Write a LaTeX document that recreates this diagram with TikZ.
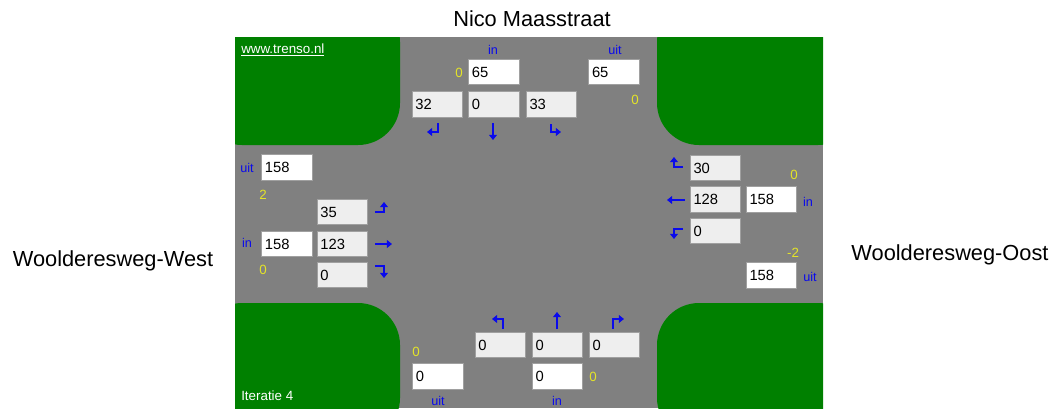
\documentclass[tikz,border=0pt]{standalone}
\usepackage{fontspec}
\setmainfont{Liberation Sans}
\usetikzlibrary{arrows.meta}

\definecolor{roadgray}{RGB}{128, 128, 128}
\definecolor{grass}{RGB}{0, 128, 0}
\definecolor{signblue}{RGB}{10, 10, 235}
\definecolor{numyellow}{RGB}{228, 228, 40}
\definecolor{fieldgray}{RGB}{238, 238, 238}
\definecolor{fieldedge}{RGB}{160, 160, 160}

\tikzset{
    field/.style = {
        draw           = fieldedge,
        line width     = 0.6pt,
        fill           = fieldgray,
        minimum width  = 1.26cm,
        minimum height = 0.63cm,
        text width     = 1.1cm,
        inner xsep     = 2pt,
        align          = left,
        font           = \fontsize{10.5}{12}\selectfont
    },
    infield/.style = {field, fill = white},
    lbl/.style     = {text = signblue, inner sep = 0pt, font = \fontsize{9}{10}\selectfont},
    cnt/.style     = {text = numyellow, inner sep = 0pt, font = \fontsize{9.5}{11}\selectfont},
    street/.style  = {inner sep = 0pt, font = \fontsize{15.5}{18}\selectfont},
    turn/.style    = {draw = signblue, line width = 1.4pt, -{Triangle[length=3.6pt, width=5.5pt]}}
}

\begin{document}
\begin{tikzpicture}[x=0.025cm, y=-0.025cm]
    \useasboundingbox (0,0) rectangle (1052,408);

    % kruispunt
    \fill[roadgray] (235,37) rectangle (823,408);
    \begin{scope}
        \clip (235,37) rectangle (823,408);
        \fill[grass, rounded corners=1.05cm] (200,0)   rectangle (400,145);
        \fill[grass, rounded corners=1.05cm] (657,0)   rectangle (860,145);
        \fill[grass, rounded corners=1.05cm] (200,303) rectangle (400,440);
        \fill[grass, rounded corners=1.05cm] (657,303) rectangle (860,440);
    \end{scope}

    \node[street] (nico) at (532,19)  {Nico Maasstraat};
    \node[street] (west) at (113,261) {Woolderesweg-West};
    \node[street] (oost) at (950,255) {Woolderesweg-Oost};

    \node[inner sep=0pt, anchor=west, text=white, font=\fontsize{9.5}{11}\selectfont] (site) at (241,50)
        {\underline{www.trenso.nl}};
    \node[inner sep=0pt, anchor=west, text=white, font=\fontsize{9.5}{11}\selectfont] (iter) at (241,396)
        {Iteratie 4};

    % noord
    \node[lbl] (nInL)  at (493,50)    {in};
    \node[lbl] (nUitL) at (615,50)    {uit};
    \node[infield] (nIn)  at (494,72)  {65};
    \node[infield] (nUit) at (614,72)  {65};
    \node[cnt] (nInC)  at (459,73)    {0};
    \node[cnt] (nUitC) at (635,100)   {0};
    \node[field] (nL) at (437.5,104.5) {32};
    \node[field] (nS) at (494,104.5)   {0};
    \node[field] (nR) at (551.5,104.5) {33};
    \draw[turn] (438,123) -- (438,132) -- (427,132);
    \draw[turn] (493,123) -- (493,140);
    \draw[turn] (551,124) -- (551,132) -- (561,132);

    % west
    \node[lbl] (wUitL) at (247,168)   {uit};
    \node[infield] (wUit) at (287,167.5) {158};
    \node[cnt] (wUitC) at (263,195)   {2};
    \node[field] (wL) at (342.5,212)  {35};
    \node[lbl] (wInL) at (247,243)    {in};
    \node[infield] (wIn) at (287,244) {158};
    \node[field] (wS) at (342.5,244)  {123};
    \node[cnt] (wInC) at (263,270)    {0};
    \node[field] (wR) at (342.5,275)  {0};
    \draw[turn] (375,212) -- (384,212) -- (384,202);
    \draw[turn] (375,244) -- (392,244);
    \draw[turn] (375,266) -- (384,266) -- (384,278);

    % oost
    \node[field] (oR) at (715.5,168)   {30};
    \node[cnt] (oInC) at (794,175)     {0};
    \node[field] (oS) at (715.5,199.5) {128};
    \node[infield] (oIn) at (771.5,199.5) {158};
    \node[lbl] (oInL) at (808,202)     {in};
    \node[field] (oL) at (715.5,231)   {0};
    \node[cnt] (oUitC) at (793,253)    {-2};
    \node[infield] (oUit) at (771.5,275.5) {158};
    \node[lbl] (oUitL) at (810,277)    {uit};
    \draw[turn] (683,167) -- (674,167) -- (674,157);
    \draw[turn] (685,200) -- (667,200);
    \draw[turn] (683,229) -- (674,229) -- (674,239);

    % zuid
    \draw[turn] (503,329) -- (503,319) -- (492,319);
    \draw[turn] (557,329) -- (557,312);
    \draw[turn] (613,329) -- (613,319) -- (624,319);
    \node[field] (zL) at (500.5,345) {0};
    \node[field] (zS) at (557.5,345) {0};
    \node[field] (zR) at (614.5,345) {0};
    \node[cnt] (zUitC) at (416,352)  {0};
    \node[infield] (zUit) at (438,376.5) {0};
    \node[infield] (zIn) at (557.5,376.5) {0};
    \node[cnt] (zInC) at (593,377)   {0};
    \node[lbl] (zUitL) at (438,401)  {uit};
    \node[lbl] (zInL) at (557,401)   {in};
\end{tikzpicture}
\end{document}
